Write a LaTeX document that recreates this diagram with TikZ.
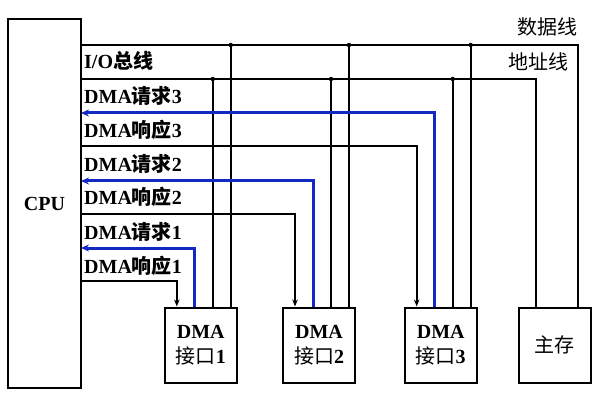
\documentclass[tikz,border=0pt]{standalone}
\usepackage{fontspec}
\setmainfont{Liberation Serif}
\newfontfamily\zhfont{Noto Sans CJK SC}
\newcommand{\zh}[1]{{\zhfont #1}}
\usetikzlibrary{arrows.meta}
\definecolor{reqblue}{RGB}{20,40,195}

\begin{document}
\begin{tikzpicture}[x=1pt, y=-1pt, font=\fontsize{20}{25}\selectfont,
	box/.style={draw, line width=2pt, inner sep=0pt, minimum width=72pt, minimum height=75pt, align=center},
	bus/.style={line width=2pt},
	req/.style={line width=3pt, reqblue, -{Stealth[length=8pt,width=7pt]}},
	ack/.style={line width=1.8pt, -{Stealth[length=7pt,width=5.5pt]}},
	lbl/.style={anchor=west, inner sep=0pt, font=\fontsize{20}{22}\selectfont\bfseries}]
	\useasboundingbox (0,0) rectangle (593,403);
	% boxes
	\node [draw, line width=2pt, inner sep=0pt, minimum width=73pt, minimum height=369pt] (cpu) at (44.5,203.5) {\textbf{CPU}};
	\node [box] (dma1) at (200.8,345) {\textbf{DMA}\\\zh{接口}\textbf{1}};
	\node [box] (dma2) at (319,345) {\textbf{DMA}\\\zh{接口}\textbf{2}};
	\node [box] (dma3) at (440.7,345) {\textbf{DMA}\\\zh{接口}\textbf{3}};
	\node [box] (mem) at (554.7,345) {\zh{主存}};
	% bus rows on the cpu side
	\coordinate (dbus) at (81,45);
	\coordinate (abus) at (81,79);
	\coordinate (md) at ([xshift=60pt]mem.north west);
	\coordinate (ma) at ([xshift=18pt]mem.north west);
	\draw [bus] (dbus) -| (md);
	\draw [bus] (abus) -| (ma);
	% interfaces
	\foreach \i/\ry/\ay in {1/248/281, 2/181/214, 3/113/146} {
		\coordinate (k\i) at ([xshift=13pt]dma\i.north west);
		\coordinate (q\i) at ([xshift=31pt]dma\i.north west);
		\coordinate (a\i) at ([xshift=49pt]dma\i.north west);
		\coordinate (d\i) at ([xshift=67pt]dma\i.north west);
		\coordinate (rq\i) at (81,\ry);
		\coordinate (ak\i) at (81,\ay);
		\draw [bus] (a\i) -- (a\i |- abus);
		\draw [bus] (d\i) -- (d\i |- dbus);
		\fill (a\i |- abus) circle (2.2pt);
		\fill (d\i |- dbus) circle (2.2pt);
		\draw [req] (q\i) |- (rq\i);
		\draw [ack] (ak\i) -| (k\i);
	}
	% labels
	\node [lbl] (lio) at (84,61) {I/O\zh{总线}};
	\node [lbl] (lq3) at (84,96) {DMA\zh{请求}3};
	\node [lbl] (lk3) at (84,130) {DMA\zh{响应}3};
	\node [lbl] (lq2) at (84,164) {DMA\zh{请求}2};
	\node [lbl] (lk2) at (84,197) {DMA\zh{响应}2};
	\node [lbl] (lq1) at (84,232) {DMA\zh{请求}1};
	\node [lbl] (lk1) at (84,266) {DMA\zh{响应}1};
	\node [anchor=east, inner sep=0pt] (ldata) at (578,27) {\zh{数据线}};
	\node [anchor=west, inner sep=0pt] (laddr) at (508,62) {\zh{地址线}};
\end{tikzpicture}
\end{document}
